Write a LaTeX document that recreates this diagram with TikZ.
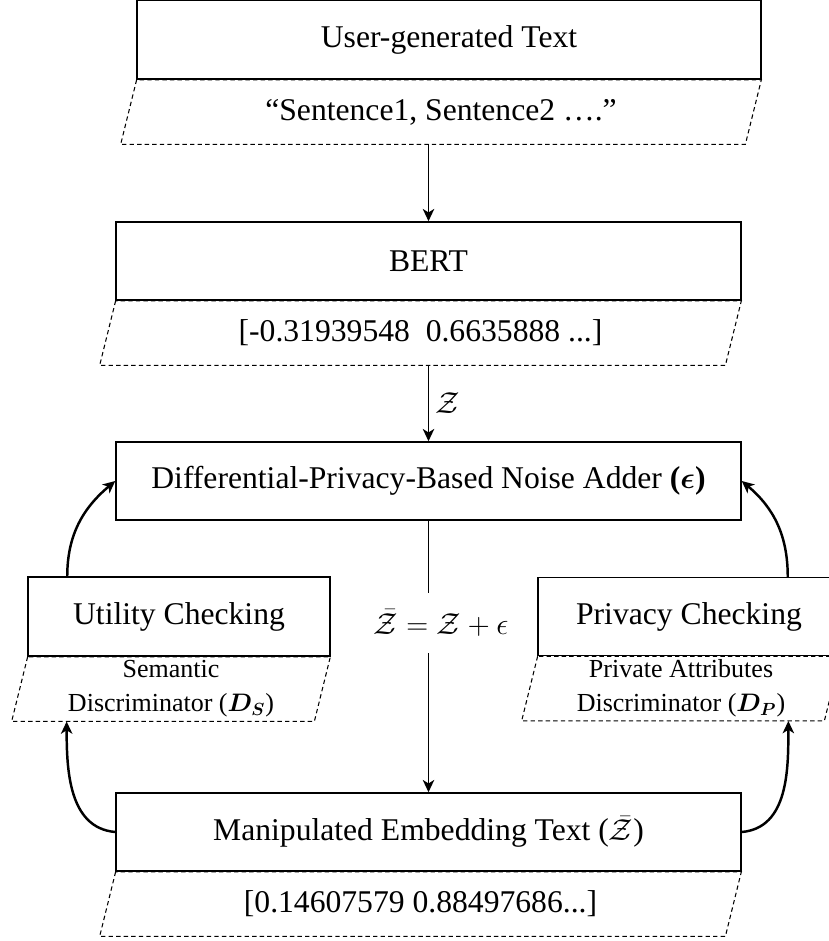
\documentclass[tikz,border=0pt]{standalone}
\usepackage{fontspec}
\setmainfont{Liberation Serif}
\usepackage{bm}
\usetikzlibrary{arrows.meta}
\usetikzlibrary{calc}

\begin{document}
\begin{tikzpicture}[
    box/.style={draw=black, line width=0.85pt, fill=white, minimum height=1.56cm, font=\fontsize{18}{21.6}\selectfont},
    vecbox/.style={draw=none, anchor=north, minimum height=1.28cm, inner sep=0pt, align=center},
    vecline/.style={line width=0.6pt, dash pattern=on 2.5pt off 1.8pt},
    flow/.style={->, >={Stealth[length=7pt,width=6.5pt,inset=2pt]}, line width=1.1pt},
    feedback/.style={flow, line width=1.4pt}
  ]

\useasboundingbox (0,0) rectangle (16.56,-18.82);

% main column
\node[box, minimum width=12.48cm, minimum height=1.58cm] (user) at (8.98,-0.79) {User-generated Text};
\node[vecbox, minimum width=12.48cm, font=\fontsize{18}{21.6}\selectfont] (userv) at ([xshift=-0.16cm]user.south) {“Sentence1, Sentence2 ….”};

\node[box, minimum width=12.5cm] (bert) at (8.57,-5.22) {BERT};
\node[vecbox, minimum width=12.5cm, font=\fontsize{18}{21.6}\selectfont] (bertv) at ([xshift=-0.16cm]bert.south) {[-0.31939548~ 0.6635888 ...]};

\node[box, minimum width=12.5cm] (dp) at (8.57,-9.62) {Differential-Privacy-Based Noise Adder \textbf{(}$\bm{\epsilon}$\textbf{)}};

\node[box, minimum width=12.5cm] (manip) at (8.57,-16.64) {Manipulated Embedding Text ($\bar{\mathcal{Z}}$)};
\node[vecbox, minimum width=12.5cm, font=\fontsize{18}{21.6}\selectfont] (manipv) at ([xshift=-0.16cm]manip.south) {[0.14607579 0.88497686...]};

% checking boxes
\node[box, minimum width=6.04cm, minimum height=1.58cm] (util) at (3.58,-12.33) {Utility Checking};
\node[vecbox, minimum width=6.04cm, font=\fontsize{14.8}{19.3}\selectfont] (utilv) at ([xshift=-0.16cm]util.south) {Semantic\\Discriminator ($\bm{D_S}$)};

\node[box, minimum width=6.04cm] (priv) at (13.78,-12.33) {Privacy Checking};
\node[vecbox, minimum width=6.04cm, font=\fontsize{14.8}{19.3}\selectfont] (privv) at ([xshift=-0.16cm]priv.south) {Private Attributes\\Discriminator ($\bm{D_P}$)};

% dashed output shapes
\foreach \v in {userv,bertv,manipv,utilv,privv}
  \draw[vecline] ([xshift=0.16cm]\v.north west) -- ([xshift=-0.16cm]\v.south west) -- ([xshift=-0.16cm]\v.south east) -- ([xshift=0.16cm]\v.north east) -- cycle;

\node[inner sep=0pt, minimum height=1.2cm, font=\fontsize{18}{21.6}\selectfont] (eq) at (8.82,-12.46) {$\bar{\mathcal{Z}} = \mathcal{Z} + \epsilon$};

\draw[flow] (userv.south -| bert.north) -- (bert.north);
\draw[flow] (bertv.south -| dp.north) -- (dp.north) node[midway,right,font=\fontsize{18}{21.6}\selectfont] {$\mathcal{Z}$};
\draw[line width=1.1pt] (dp.south) -- (dp.south |- eq.north);
\draw[flow] (dp.south |- eq.south) -- (manip.north);

\draw[feedback] ([xshift=0.8cm]util.north west) to[out=90,in=220] (dp.west);
\draw[feedback] ([xshift=-1.06cm]priv.north east) to[out=90,in=-40] (dp.east);
\draw[feedback] (manip.west) to[out=175,in=-90] ([xshift=0.94cm]utilv.south west);
\draw[feedback] (manip.east) to[out=5,in=-90] ([xshift=-0.88cm]privv.south east);

\end{tikzpicture}
\end{document}
